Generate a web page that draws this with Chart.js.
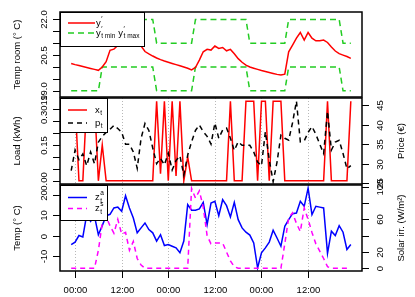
<!DOCTYPE html>
<html lang="en">
<head>
<meta charset="UTF-8">
<title>Room temperature, load and weather</title>
<style>
  body { margin: 0; background: #fff; }
  #wrap { position: relative; width: 415px; height: 297px; }
  #wrap canvas { position: absolute; left: 0; top: 0; }
</style>
</head>
<body>
<div id="wrap">
  <canvas id="roomChart" width="415" height="297"></canvas>
  <canvas id="loadChart" width="415" height="297"></canvas>
  <canvas id="weatherChart" width="415" height="297"></canvas>
</div>
<script src="https://cdn.jsdelivr.net/npm/chart.js"></script>
<script>
// hourly samples, from 23:00 the evening before day 1 to 23:00 on day 3
const hours = [-1, 0, 1, 2, 3, 4, 5, 6, 7, 8, 9, 10, 11, 12, 13, 14, 15, 16, 17, 18, 19, 20, 21, 22, 23,
  24, 25, 26, 27, 28, 29, 30, 31, 32, 33, 34, 35, 36, 37, 38, 39, 40, 41, 42, 43, 44, 45, 46, 47,
  48, 49, 50, 51, 52, 53, 54, 55, 56, 57, 58, 59, 60, 61, 62, 63, 64, 65, 66, 67, 68, 69, 70, 71];

const roomTemp = [20.15, 20.10, 20.06, 20.02, 19.98, 19.94, 19.90, 19.86, 20.00, 20.22, 20.70, 20.75, 20.90,
  21.05, 21.10, 21.05, 21.12, 21.00, 20.88, 20.65, 20.55, 20.46, 20.38, 20.31, 20.25, 20.20, 20.15,
  20.10, 20.05, 20.00, 19.95, 19.88, 19.98, 20.29, 20.64, 20.74, 20.71, 20.88, 20.78, 20.82, 20.68,
  20.74, 20.56, 20.35, 20.20, 20.08, 20.00, 19.95, 19.90, 19.85, 19.81, 19.77, 19.73, 19.69, 19.66,
  19.70, 20.64, 20.92, 21.21, 21.45, 21.13, 21.45, 21.21, 21.10, 21.10, 21.13, 21.03, 20.84, 20.67,
  20.56, 20.50, 20.44, 20.36];
const tempMin = [19, 19, 19, 19, 19, 19, 19, 19, 20, 20, 20, 20, 20, 20, 20, 20, 20, 20, 20, 20, 20, 20,
  19, 19, 19, 19, 19, 19, 19, 19, 19, 19, 20, 20, 20, 20, 20, 20, 20, 20, 20, 20, 20, 20, 20, 20,
  19, 19, 19, 19, 19, 19, 19, 19, 19, 19, 20, 20, 20, 20, 20, 20, 20, 20, 20, 20, 20, 20, 20, 20,
  19, 19, 19];
const tempMax = [21, 21, 21, 21, 21, 21, 21, 21, 22, 22, 22, 22, 22, 22, 22, 22, 22, 22, 22, 22, 22, 22,
  21, 21, 21, 21, 21, 21, 21, 21, 21, 21, 22, 22, 22, 22, 22, 22, 22, 22, 22, 22, 22, 22, 22, 22,
  21, 21, 21, 21, 21, 21, 21, 21, 21, 21, 22, 22, 22, 22, 22, 22, 22, 22, 22, 22, 22, 22, 22, 22,
  21, 21, 21];

const load = [0.333, 0.333, 0, 0, 0.333, 0.333, 0.333, 0, 0.15, 0, 0, 0, 0, 0, 0, 0, 0, 0, 0, 0, 0, 0,
  0.333, 0.03, 0.333, 0, 0.333, 0.02, 0.333, 0, 0.10, 0, 0, 0, 0, 0, 0, 0, 0, 0, 0, 0.333, 0, 0, 0,
  0.333, 0.333, 0.333, 0, 0.333, 0.333, 0, 0.333, 0.333, 0.333, 0, 0, 0, 0, 0, 0, 0, 0, 0, 0, 0,
  0.333, 0, 0, 0, 0, 0, 0.333];
const price = [28.2, 33.5, 31.0, 32.5, 29.5, 33.0, 30.0, 35.5, 37.0, 38.0, 38.8, 39.8, 39.0, 38.0, 35.0,
  35.0, 33.0, 28.8, 36.5, 40.3, 38.5, 34.0, 30.0, 31.4, 29.7, 32.7, 28.4, 30.8, 32.0, 27.1, 32.2, 35.6,
  38.5, 39.9, 38.2, 37.0, 35.0, 40.4, 36.5, 38.6, 39.1, 36.5, 33.4, 35.6, 34.7, 34.7, 34.7, 33.0, 30.4,
  29.5, 38.2, 31.0, 25.4, 30.4, 37.3, 36.5, 36.0, 40.5, 46.0, 35.6, 35.8, 38.0, 39.5, 37.5, 35.0, 32.6,
  43.4, 33.5, 35.5, 36.0, 32.6, 28.7, 29.5];

const ambientTemp = [-4.2, -3.0, 0.2, -0.5, 10.3, 7.1, 9.6, 0.6, 5.0, 9.8, 10.5, 13.6, 14.0, 12.0, 19.5,
  13.6, 8.7, 1.5, 3.9, 6.3, 3.1, 1.5, -2.5, 0.6, -4.7, -4.2, -5.0, -5.8, -8.2, -2.5, 15.2, 12.5, 12.5,
  13.1, 16.3, 5.5, 16.0, 16.8, 9.8, 17.6, 14.7, 9.2, 16.3, 7.9, 3.9, 1.8, 0.4, -3.4, -15.5, -8.2, -5.8,
  -3.0, 2.8, -1.0, -5.0, 4.7, 7.9, 10.8, 11.1, 16.8, 14.4, 23.2, 10.3, 14.4, 14.0, 13.6, -8.5, 2.3,
  0.2, 5.0, 1.8, -6.6, -4.2];
const solar = [0, 0, 0, 0, 0, 0, 0, 22, 55, 63, 52, 43, 60, 42, 44, 22, 33, 12, 4, 0, 0, 0, 0, 0, 0,
  0, 0, 0, 0, 0, 0, 98, 86, 95, 75, 40, 30, 31, 31, 31, 20, 9, 2, 0, 0, 0, 0, 0, 0, 0, 0, 0, 0, 0,
  0, 30, 62, 68, 55, 45, 74, 60, 44, 30, 21, 12, 2, 0, 0, 0, 0, 0, 0];

const timeTicks = [0, 12, 24, 36, 48, 60];
const timeLabels = ['00:00', '12:00', '00:00', '12:00', '00:00', '12:00'];
const roomTicks = [19, 19.5, 20, 20.5, 21, 21.5, 22];
const roomTickLabels = ['19.0', '', '', '20.5', '', '', '22.0'];
const loadTicks = [0, 0.05, 0.10, 0.15, 0.20, 0.25, 0.3019];
const loadTickLabels = ['0.00', '', '', '0.15', '', '', '0.3019'];
const priceTicks = [25, 30, 35, 40, 45];
const priceTickLabels = ['25', '30', '35', '40', '45'];
const ambientTicks = [-10, 0, 10, 20];
const ambientTickLabels = ['-10', '0', '10', '20'];
const solarTicks = [0, 20, 40, 60, 80, 100];
const solarTickLabels = ['0', '20', '', '60', '', '100'];

const FONT = '9.5px "Liberation Sans", Arial, sans-serif';
const SMALL = '6.5px "Liberation Sans", Arial, sans-serif';
const TICK = 7;

function pts(ys) {
  return hours.map((h, i) => ({x: h, y: ys[i]}));
}

function vText(ctx, text, x, y) {
  ctx.save();
  ctx.translate(x, y);
  ctx.rotate(-Math.PI / 2);
  ctx.textAlign = 'center';
  ctx.textBaseline = 'middle';
  ctx.fillText(text, 0, 0);
  ctx.restore();
}

// label pieces: [base, superscript, subscript, extra gap]
function richText(ctx, parts, x, y) {
  let cx = x;
  ctx.textAlign = 'left';
  ctx.textBaseline = 'middle';
  parts.forEach(p => {
    ctx.font = FONT;
    ctx.fillText(p[0], cx, y);
    cx += ctx.measureText(p[0]).width;
    ctx.font = SMALL;
    let w = 0;
    if (p[1]) { ctx.fillText(p[1], cx + 0.5, y - 4); w = ctx.measureText(p[1]).width + 0.5; }
    if (p[2]) { ctx.fillText(p[2], cx + 0.5, y + 3.5); w = Math.max(w, ctx.measureText(p[2]).width + 0.5); }
    cx += w + (p[3] || 0);
  });
}

const decor = {
  roomChart: {
    grid: false,
    left: {id: 'y', ticks: roomTicks, labels: roomTickLabels, title: 'Temp room (° C)'},
    legend: {w: 84, h: 34, line: [8, 35], textX: 36, rows: [
      {color: '#ff0000', dash: [], dy: 11, parts: [['y', '\u2032', '']]},
      {color: '#22cc22', dash: [6, 4], dy: 21, parts: [['y', '\u2032', 't min', 3], ['y', '\u2032', 't max']]}
    ]}
  },
  loadChart: {
    grid: true,
    left: {id: 'y', ticks: loadTicks, labels: loadTickLabels, title: 'Load (kWh)'},
    right: {id: 'y2', ticks: priceTicks, labels: priceTickLabels, title: 'Price (\u20ac)'},
    legend: {w: 47, h: 34, line: [8, 27], textX: 35, rows: [
      {color: '#ff0000', dash: [], dy: 12, parts: [['x', '', 't']]},
      {color: '#000000', dash: [5, 4], dy: 25, parts: [['p', '', 't']]}
    ]}
  },
  weatherChart: {
    grid: true,
    left: {id: 'y', ticks: ambientTicks, labels: ambientTickLabels, title: 'Temp (° C)'},
    right: {id: 'y2', ticks: solarTicks, labels: solarTickLabels, title: 'Solar irr. (W/m\u00b2)'},
    xAxis: true,
    legend: {w: 47, h: 35, line: [8, 27], textX: 35, rows: [
      {color: '#0000ff', dash: [], dy: 12.5, parts: [['z', 'a', 't']]},
      {color: '#ff00ff', dash: [5, 4], dy: 23.5, parts: [['z', 's', 't']]}
    ]}
  }
};

const panelPlugin = {
  id: 'panelDecor',
  beforeDatasetsDraw(chart) {
    const d = decor[chart.canvas.id];
    if (!d.grid) return;
    const {ctx, chartArea: a} = chart;
    ctx.save();
    ctx.strokeStyle = '#b8b8b8';
    ctx.lineWidth = 1;
    ctx.setLineDash([1, 2]);
    timeTicks.forEach(h => {
      const x = Math.round(chart.scales.x.getPixelForValue(h)) + 0.5;
      ctx.beginPath();
      ctx.moveTo(x, a.top);
      ctx.lineTo(x, a.bottom);
      ctx.stroke();
    });
    ctx.restore();
  },
  afterDraw(chart) {
    const d = decor[chart.canvas.id];
    const {ctx, chartArea: a} = chart;
    ctx.save();

    // legend box in the top left corner
    const lg = d.legend;
    ctx.fillStyle = '#fff';
    ctx.fillRect(a.left, a.top, lg.w, lg.h);
    ctx.strokeStyle = '#000';
    ctx.lineWidth = 1;
    ctx.strokeRect(a.left + 0.5, a.top + 0.5, lg.w, lg.h);
    lg.rows.forEach(r => {
      const y = a.top + r.dy;
      ctx.strokeStyle = r.color;
      ctx.lineWidth = 1.5;
      ctx.setLineDash(r.dash);
      ctx.beginPath();
      ctx.moveTo(a.left + lg.line[0], y);
      ctx.lineTo(a.left + lg.line[1], y);
      ctx.stroke();
      ctx.setLineDash([]);
      ctx.fillStyle = '#000';
      richText(ctx, r.parts, a.left + lg.textX, y);
    });

    // frame
    ctx.strokeStyle = '#000';
    ctx.lineWidth = 1.5;
    ctx.strokeRect(a.left, a.top, a.right - a.left, a.bottom - a.top);

    ctx.lineWidth = 1;
    ctx.fillStyle = '#000';
    ctx.font = FONT;
    const side = (ax, isLeft) => {
      const s = chart.scales[ax.id];
      const x0 = isLeft ? a.left : a.right;
      const dir = isLeft ? -1 : 1;
      ax.ticks.forEach((v, i) => {
        const y = Math.round(s.getPixelForValue(v)) + 0.5;
        ctx.beginPath();
        ctx.moveTo(x0, y);
        ctx.lineTo(x0 + dir * TICK, y);
        ctx.stroke();
        if (ax.labels[i]) vText(ctx, ax.labels[i], x0 + dir * (isLeft ? 16 : 18), y);
      });
      vText(ctx, ax.title, isLeft ? 17 : 401, (a.top + a.bottom) / 2);
    };
    side(d.left, true);
    if (d.right) side(d.right, false);

    if (d.xAxis) {
      ctx.textAlign = 'center';
      ctx.textBaseline = 'middle';
      timeTicks.forEach((h, i) => {
        const x = Math.round(chart.scales.x.getPixelForValue(h)) + 0.5;
        ctx.beginPath();
        ctx.moveTo(x, a.bottom);
        ctx.lineTo(x, a.bottom + TICK);
        ctx.stroke();
        ctx.fillText(timeLabels[i], x, 290);
      });
    }
    ctx.restore();
  }
};

function makeChart(id, padTop, padBottom, datasets, yRange, y2Range) {
  const scales = {
    x: {type: 'linear', display: false, min: -3.88, max: 73.88},
    y: {display: false, min: yRange[0], max: yRange[1]}
  };
  if (y2Range) scales.y2 = {display: false, min: y2Range[0], max: y2Range[1]};
  return new Chart(document.getElementById(id), {
    type: 'line',
    data: {datasets: datasets},
    options: {
      responsive: false,
      animation: false,
      devicePixelRatio: 1,
      layout: {padding: {left: 60, right: 53, top: padTop, bottom: padBottom}},
      elements: {point: {radius: 0}, line: {tension: 0, borderWidth: 1.5}},
      scales: scales,
      plugins: {legend: {display: false}, tooltip: {enabled: false}}
    },
    plugins: [panelPlugin]
  });
}

makeChart('roomChart', 12, 200, [
  {label: "y'", data: pts(roomTemp), borderColor: '#ff0000'},
  {label: "y' t min", data: pts(tempMin), borderColor: '#22cc22', borderDash: [6, 4]},
  {label: "y' t max", data: pts(tempMax), borderColor: '#22cc22', borderDash: [6, 4]}
], [18.74, 22.31]);

makeChart('loadChart', 98, 113, [
  {label: 'p_t', data: pts(price), borderColor: '#000000', borderDash: [5, 4], yAxisID: 'y2'},
  {label: 'x_t', data: pts(load), borderColor: '#ff0000', yAxisID: 'y'}
], [-0.0133, 0.3467], [24.8, 46.8]);

makeChart('weatherChart', 185, 26, [
  {label: 'z_t^s', data: pts(solar), borderColor: '#ff00ff', borderDash: [5, 4], yAxisID: 'y2'},
  {label: 'z_t^a', data: pts(ambientTemp), borderColor: '#0000ff', yAxisID: 'y'}
], [-17.05, 24.75], [-3.3, 102.1]);
</script>
</body>
</html>
